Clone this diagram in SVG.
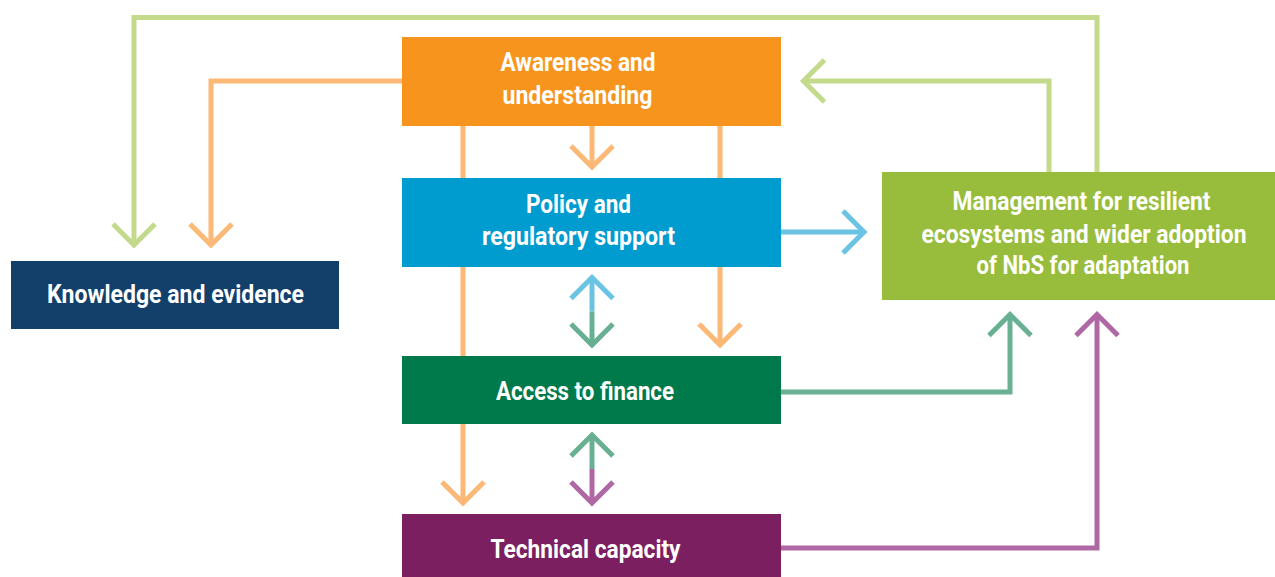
<svg xmlns="http://www.w3.org/2000/svg" xmlns:xlink="http://www.w3.org/1999/xlink" width="1275" height="577" viewBox="0 0 1275 577">
<style>
.ln{fill:none;stroke-width:5;stroke-linejoin:miter;stroke-linecap:butt}
.or{stroke:#FBB876}.lm{stroke:#C3DA8C}.bl{stroke:#6AC3E2}.gr{stroke:#69B092}.pu{stroke:#B068A5}
.t{font-family:Roboto,"Liberation Sans",sans-serif;font-weight:bold;font-size:25px;fill:#FFFFFF}
</style>
<defs>
<path id="chev" d="M-21,-21 L0,0 L21,-21" style="fill:none;stroke-width:5;stroke-linejoin:miter"/>
</defs>
<rect width="1275" height="577" fill="#FFFFFF"/>
<g id="connectors">
<polyline class="ln lm" points="1097,172 1097,17.5 134,17.5 134,245"/>
<use href="#chev" class="lm" transform="translate(134,245)"/>
<polyline class="ln or" points="402,81 211,81 211,245"/>
<use href="#chev" class="or" transform="translate(211,245)"/>
<polyline class="ln lm" points="1049,172 1049,81 803.5,81"/>
<use href="#chev" class="lm" transform="translate(803.5,81) rotate(90)"/>
<polyline class="ln bl" points="781,232 864,232"/>
<use href="#chev" class="bl" transform="translate(864,232) rotate(-90)"/>
<polyline class="ln or" points="463,126 463,503"/>
<use href="#chev" class="or" transform="translate(463,503)"/>
<polyline class="ln or" points="720,126 720,345"/>
<use href="#chev" class="or" transform="translate(720,345)"/>
<polyline class="ln or" points="592,126 592,167"/>
<use href="#chev" class="or" transform="translate(592,167)"/>
<polyline class="ln bl" points="592,311.5 592,277.5"/>
<use href="#chev" class="bl" transform="translate(592,277.5) rotate(180)"/>
<polyline class="ln gr" points="592,311.5 592,345"/>
<use href="#chev" class="gr" transform="translate(592,345)"/>
<polyline class="ln gr" points="592,469 592,435"/>
<use href="#chev" class="gr" transform="translate(592,435) rotate(180)"/>
<polyline class="ln pu" points="592,469 592,503"/>
<use href="#chev" class="pu" transform="translate(592,503)"/>
<polyline class="ln gr" points="781,392 1010,392 1010,314.5"/>
<use href="#chev" class="gr" transform="translate(1010,314.5) rotate(180)"/>
<polyline class="ln pu" points="781,548 1097,548 1097,314.5"/>
<use href="#chev" class="pu" transform="translate(1097,314.5) rotate(180)"/>
</g>
<g id="awareness">
<rect x="402" y="37" width="379" height="89" fill="#F7941E"/>
<text class="t" x="500.5" y="71" textLength="155" lengthAdjust="spacingAndGlyphs">Awareness and</text>
<text class="t" x="502.5" y="103.5" textLength="150" lengthAdjust="spacingAndGlyphs">understanding</text>
</g>
<g id="policy">
<rect x="402" y="178" width="379" height="89" fill="#009BCF"/>
<text class="t" x="526" y="213" textLength="105" lengthAdjust="spacingAndGlyphs">Policy and</text>
<text class="t" x="482" y="245" textLength="193" lengthAdjust="spacingAndGlyphs">regulatory support</text>
</g>
<g id="finance">
<rect x="402" y="356" width="379" height="68" fill="#007A4B"/>
<text class="t" x="496" y="399.5" textLength="178" lengthAdjust="spacingAndGlyphs">Access to finance</text>
</g>
<g id="technical">
<rect x="402" y="514" width="379" height="63" fill="#7B1F61"/>
<text class="t" x="490.5" y="558" textLength="190" lengthAdjust="spacingAndGlyphs">Technical capacity</text>
</g>
<g id="knowledge">
<rect x="11" y="261" width="328" height="68" fill="#133F6B"/>
<text class="t" x="47" y="302.5" textLength="257" lengthAdjust="spacingAndGlyphs">Knowledge and evidence</text>
</g>
<g id="management">
<rect x="882" y="172" width="393" height="128" fill="#98BD3D"/>
<text class="t" x="952.5" y="210" textLength="258" lengthAdjust="spacingAndGlyphs">Management for resilient</text>
<text class="t" x="921.5" y="242.5" textLength="325" lengthAdjust="spacingAndGlyphs">ecosystems and wider adoption</text>
<text class="t" x="976.5" y="274" textLength="213" lengthAdjust="spacingAndGlyphs">of NbS for adaptation</text>
</g>
</svg>
